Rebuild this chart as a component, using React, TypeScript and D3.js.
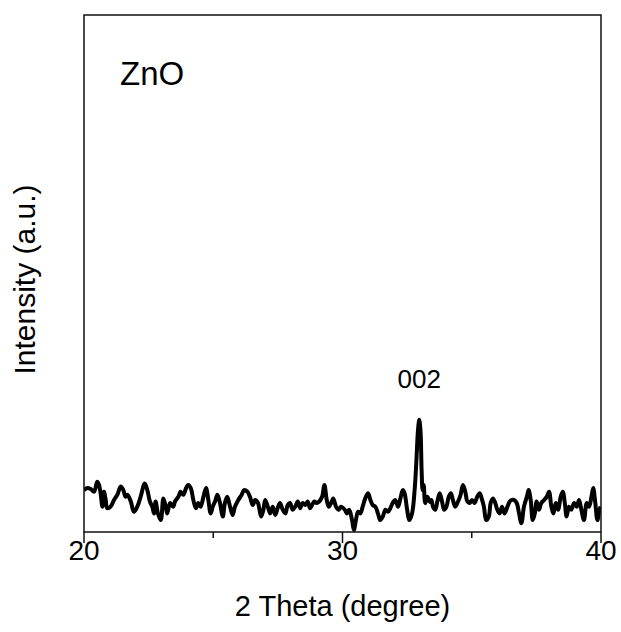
import React from "react";
import * as d3 from "d3";

const twoTheta: number[] = [
  20.0, 20.13, 20.26, 20.39, 20.51, 20.58, 20.65, 20.71, 20.77, 20.84, 20.9, 21.03, 21.16, 21.29, 21.42, 21.52, 21.61, 21.68, 21.81, 21.93,
  22.06, 22.19, 22.35, 22.45, 22.55, 22.64, 22.71, 22.77, 22.86, 22.97, 23.07, 23.16, 23.22,
  23.33, 23.45, 23.52, 23.65, 23.74, 23.84, 23.95, 24.03, 24.13, 24.23, 24.33, 24.42, 24.51, 24.62, 24.72, 24.81, 24.9, 24.98,
  25.07, 25.16, 25.26, 25.37, 25.45, 25.54, 25.65, 25.75, 25.84, 25.97, 26.1, 26.19, 26.32, 26.42, 26.53, 26.62,
  26.73, 26.85, 26.94, 27.01, 27.11, 27.2, 27.3, 27.4, 27.49, 27.58, 27.69, 27.79, 27.88, 27.97, 28.07, 28.17, 28.27, 28.36,
  28.46, 28.56, 28.65, 28.74, 28.82, 28.91, 29.0, 29.1, 29.21, 29.3, 29.39, 29.47, 29.56, 29.64, 29.75, 29.85, 29.94,
  30.09, 30.17, 30.26, 30.37, 30.44, 30.52, 30.6, 30.69, 30.78, 30.88, 30.99, 31.08, 31.17, 31.27, 31.37, 31.46, 31.56, 31.66,
  31.76, 31.85, 31.94, 32.04, 32.15, 32.24, 32.33, 32.4, 32.5, 32.58, 32.69, 32.79, 32.86, 32.92, 32.97, 33.02, 33.06, 33.1,
  33.14, 33.2, 33.28, 33.39,
  33.44, 33.5, 33.59, 33.67, 33.76, 33.85, 33.93, 34.02, 34.11, 34.19, 34.27, 34.36, 34.47, 34.57, 34.66, 34.75, 34.83, 34.92,
  35.01, 35.11, 35.21, 35.31, 35.4, 35.47, 35.56, 35.66, 35.73, 35.82, 35.91, 35.99, 36.08, 36.17, 36.27, 36.38, 36.47, 36.56,
  36.63, 36.74, 36.83, 36.92, 37.02, 37.13, 37.2, 37.28, 37.36, 37.44, 37.51, 37.6, 37.69, 37.8, 37.9, 37.99, 38.08, 38.16,
  38.25, 38.34, 38.44, 38.52, 38.6, 38.67, 38.76, 38.85, 38.96, 39.06, 39.15, 39.24, 39.34, 39.45, 39.54, 39.63, 39.7, 39.78,
  39.86, 39.94, 39.99,
];

const intensity: number[] = [
  8.1, 8.5, 8.3, 7.8, 9.7, 9.1, 7.2, 4.9, 7.8, 6.2, 4.6, 4.9, 6.2, 7.2, 8.8, 8.1, 6.8, 7.2, 5.9, 3.9,
  4.9, 6.8, 9.4, 8.1, 5.9, 4.9, 3.6, 5.9, 3.6, 2.3, 6.5, 4.9, 3.6,
  5.6, 4.9, 5.9, 6.8, 7.8, 7.2, 8.5, 9.1, 8.5, 6.2, 4.6, 5.6, 4.9, 6.8, 8.5, 6.2, 3.6, 4.9,
  5.9, 7.2, 5.6, 3.0, 5.6, 6.8, 4.9, 3.3, 4.9, 6.2, 7.2, 8.1, 7.8, 6.8, 5.2, 6.2,
  5.6, 3.0, 4.3, 6.2, 4.9, 3.6, 4.9, 3.3, 4.6, 5.6, 4.3, 3.6, 5.2, 5.6, 4.3, 4.9, 5.9, 4.6,
  5.6, 5.2, 5.9, 4.6, 5.2, 5.9, 5.6, 5.9, 6.8, 9.1, 6.2, 4.9, 5.6, 6.5, 4.9, 4.3, 4.9,
  4.3, 3.6, 4.3, 2.3, 0.4, 2.3, 3.9, 3.6, 4.9, 6.5, 7.5, 6.2, 5.2, 4.9, 3.6, 2.3, 3.0, 4.3,
  3.9, 4.6, 5.6, 6.2, 4.9, 6.5, 8.1, 7.5, 4.3, 2.3, 3.6, 8.1, 13.9, 19.7, 21.7, 19.3, 12.0, 8.1,
  9.1, 5.6, 6.8, 5.8,
  6.2, 4.9, 4.3, 5.9, 7.5, 5.9, 4.3, 4.9, 6.8, 7.5, 6.2, 4.9, 5.9, 7.2, 9.1, 7.8, 5.9, 5.6,
  6.2, 5.6, 6.8, 7.5, 6.2, 4.9, 2.3, 3.0, 5.6, 6.5, 5.6, 4.3, 3.6, 4.9, 3.6, 4.9, 5.9, 6.2,
  6.2, 5.6, 3.6, 1.7, 4.9, 6.8, 8.1, 6.2, 2.3, 3.6, 5.9, 4.3, 5.6, 6.2, 6.8, 7.8, 4.9, 3.6,
  5.6, 4.3, 6.8, 7.8, 5.6, 3.0, 4.9, 4.3, 5.6, 4.9, 6.2, 4.3, 2.3, 5.6, 4.9, 6.8, 8.5, 5.6,
  2.3, 4.3, 4.9,
];

const majorTicks: number[] = [20, 30, 40];
const minorTicks: number[] = [25, 35];
const sampleLabel = "ZnO";
const peakLabel = "002";
const peakPosition = 32.97;
const xTitle = "2 Theta (degree)";
const yTitle = "Intensity (a.u.)";

const W = 621;
const H = 632;
const left = 84;
const right = 601;
const top = 15;
const bottom = 532;
const font = "Arial, 'Liberation Sans', sans-serif";

export default function App() {
  const x = d3.scaleLinear().domain([20, 40]).range([left, right]);
  const y = d3.scaleLinear().domain([0, 100]).range([bottom, top]);
  const pts: [number, number][] = twoTheta.map((t, i) => [t, intensity[i]]);
  const line = d3
    .line<[number, number]>()
    .x((d) => x(d[0]))
    .y((d) => y(d[1]))
    .curve(d3.curveCatmullRom.alpha(0.5));

  return (
    <svg
      width={W}
      height={H}
      style={{ position: "absolute", left: 0, top: 0, background: "#fff" }}
    >
      <defs>
        <clipPath id="plotclip">
          <rect x={left} y={top} width={right - left} height={bottom - top} />
        </clipPath>
      </defs>
      <rect x={0} y={0} width={W} height={H} fill="#fff" />
      <path
        d={line(pts) || ""}
        fill="none"
        stroke="#000"
        strokeWidth={4}
        strokeLinejoin="round"
        clipPath="url(#plotclip)"
      />
      <rect
        x={left}
        y={top}
        width={right - left}
        height={bottom - top}
        fill="none"
        stroke="#111"
        strokeWidth={1.5}
      />
      {majorTicks.map((t) => (
        <g key={"M" + t}>
          <line x1={x(t)} x2={x(t)} y1={bottom} y2={bottom + 11} stroke="#111" strokeWidth={1.5} />
          <text
            x={x(t)}
            y={560}
            textAnchor="middle"
            fontFamily={font}
            fontSize={28}
            fill="#000"
          >
            {t}
          </text>
        </g>
      ))}
      {minorTicks.map((t) => (
        <line key={"m" + t} x1={x(t)} x2={x(t)} y1={bottom} y2={bottom + 6} stroke="#111" strokeWidth={1.5} />
      ))}
      <text x={(left + right) / 2} y={616} textAnchor="middle" fontFamily={font} fontSize={29} fill="#000">
        {xTitle}
      </text>
      <text
        transform={`translate(35, ${(top + bottom) / 2 + 6}) rotate(-90)`}
        textAnchor="middle"
        fontFamily={font}
        fontSize={30}
        fill="#000"
      >
        {yTitle}
      </text>
      <text x={120} y={85} fontFamily={font} fontSize={33} fill="#000">
        {sampleLabel}
      </text>
      <text x={x(peakPosition)} y={388} textAnchor="middle" fontFamily={font} fontSize={26} fill="#000">
        {peakLabel}
      </text>
    </svg>
  );
}
